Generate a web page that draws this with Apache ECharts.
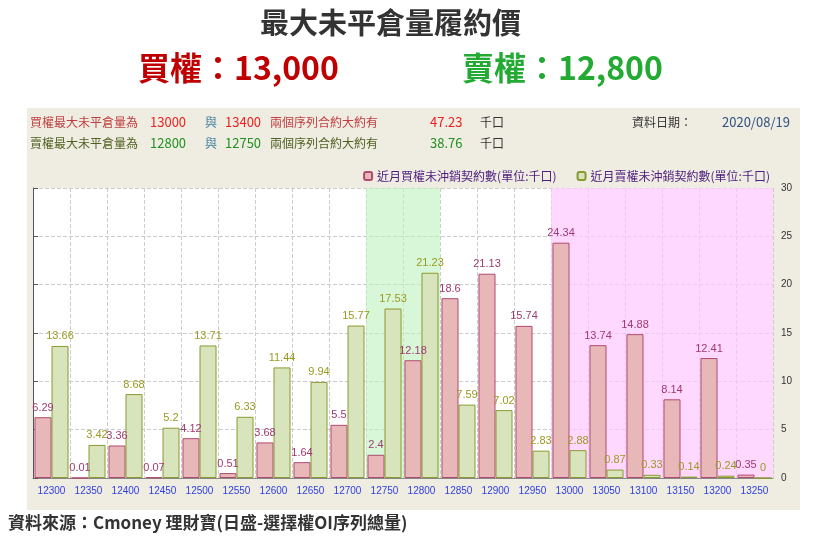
<!DOCTYPE html><html><head><meta charset="utf-8"><script src="https://cdn.jsdelivr.net/npm/echarts@6/dist/echarts.min.js"></script>
<style>body{margin:0;background:#fff}#c{width:820px;height:551px}</style></head><body><div id="c"></div><script>
const strikes=['12300','12350','12400','12450','12500','12550','12600','12650','12700','12750','12800','12850','12900','12950','13000','13050','13100','13150','13200','13250'];
const callOI=[6.29,0.01,3.36,0.07,4.12,0.51,3.68,1.64,5.5,2.4,12.18,18.6,21.13,15.74,24.34,13.74,14.88,8.14,12.41,0.35];
const putOI=[13.66,3.42,8.68,5.2,13.71,6.33,11.44,9.94,15.77,17.53,21.23,7.59,7.02,2.83,2.88,0.87,0.33,0.14,0.24,0];
const F='"Noto Sans CJK TC","Noto Sans",sans-serif';
const t=(x,y,s,c,sz,w,al)=>({type:'text',left:x,top:y,style:{text:s,fill:c,font:(w||'normal')+' '+sz+'px '+F,textAlign:al||'left'}});
const ch=echarts.init(document.getElementById('c'));
const gi=(s)=>strikes.indexOf(s);
ch.setOption({animation:false,
graphic:[
{type:'rect',left:27,top:108,shape:{width:773,height:402},style:{fill:'#efece2'},z:-10},
{type:'rect',left:33,top:188,shape:{width:740,height:290},style:{fill:'#fff'},z:-9},
t(260,8,'最大未平倉量履約價','#333',29,'bold'),
t(138,52,'買權：13,000','#c00000',32,'bold'),
t(462,52,'賣權：12,800','#22aa33',32,'bold'),
t(30,116,'買權最大未平倉量為','#c04040',12),t(150,116,'13000','#ee2020',13),t(205,116,'與','#4080a0',12),t(225,116,'13400','#ee2020',13),t(270,116,'兩個序列合約大約有','#c04040',12),t(430,116,'47.23','#ee2020',13),t(480,116,'千口','#333',12),
t(30,137,'賣權最大未平倉量為','#506020',12),t(150,137,'12800','#209020',13),t(205,137,'與','#4080a0',12),t(225,137,'12750','#209020',13),t(270,137,'兩個序列合約大約有','#506020',12),t(430,137,'38.76','#209020',13),t(480,137,'千口','#333',12),
t(632,116,'資料日期：','#333',12),t(722,116,'2020/08/19','#305080',13),
t(8,514,'資料來源：Cmoney 理財寶(日盛-選擇權OI序列總量)','#333',17,'bold')
],
legend:{top:165,right:45,itemWidth:8,itemHeight:8,itemGap:20,textStyle:{color:'#502080',fontSize:12,fontFamily:F},data:['近月買權未沖銷契約數(單位:千口)','近月賣權未沖銷契約數(單位:千口)']},
grid:{left:33,right:47,top:188,bottom:73},
xAxis:[{type:'category',data:strikes,axisTick:{show:false},axisLine:{lineStyle:{color:'#888'}},axisLabel:{color:'#3040e0',fontSize:10,interval:0},splitLine:{show:true,lineStyle:{type:'dashed',color:'#ccc'}}},
 {type:'value',min:0,max:strikes.length,show:false}],
yAxis:{type:'value',position:'right',min:0,max:30,interval:5,axisLabel:{color:'#333',fontSize:10},splitLine:{lineStyle:{type:'dashed',color:'#ccc'}}},
series:[
{type:'line',xAxisIndex:1,data:[],silent:true,
 markArea:{silent:true,data:[[{xAxis:gi('12750'),itemStyle:{color:'rgba(190,240,190,0.6)'}},{xAxis:gi('12800')+1}],[{xAxis:gi('13000'),itemStyle:{color:'rgba(255,200,255,0.7)'}},{xAxis:strikes.length}]]}},
{name:'近月買權未沖銷契約數(單位:千口)',type:'bar',data:callOI,barGap:'0%',barCategoryGap:'8%',itemStyle:{color:'#e8b8b8',borderColor:'#b04a70',borderWidth:1},label:{show:true,position:'top',color:'#a03a70',fontSize:11,distance:4}},
{name:'近月賣權未沖銷契約數(單位:千口)',type:'bar',data:putOI,itemStyle:{color:'#d8e4bc',borderColor:'#8a9a30',borderWidth:1},label:{show:true,position:'top',color:'#9a9a20',fontSize:11,distance:4}}
]});
</script></body></html>
